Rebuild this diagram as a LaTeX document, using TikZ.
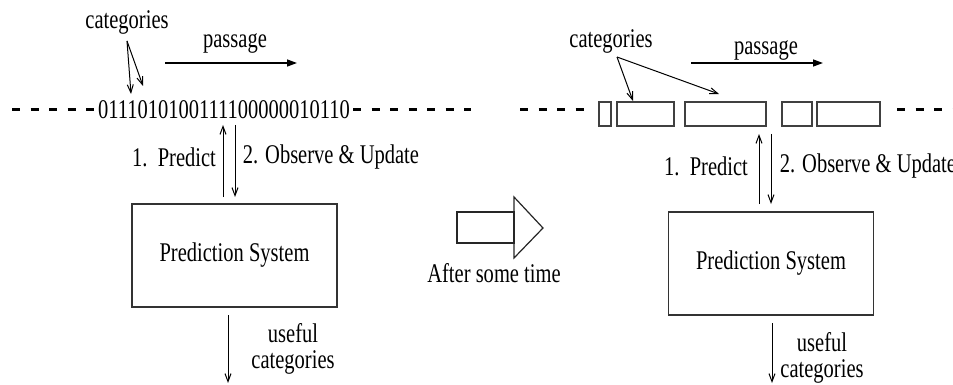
\documentclass[tikz,border=0pt]{standalone}
\usepackage{fontspec}
\setmainfont{Liberation Serif}[FakeStretch=0.76]
\usetikzlibrary{arrows.meta}
\begin{document}
\begin{tikzpicture}[x=0.5pt,y=-0.5pt,
  txt/.style={inner sep=0pt, font=\fontsize{13.5}{13}\selectfont, align=center},
  sysbox/.style={draw=black!80, line width=0.6pt, minimum width=102.5pt, minimum height=51.5pt, inner sep=0pt, font=\fontsize{13.5}{13}\selectfont},
  seg/.style={draw=black!75, line width=0.6pt, inner sep=0pt, minimum height=12pt},
  thinarrow/.style={line width=0.5pt, -{Straight Barb[length=4pt,width=3pt]}},
  passarrow/.style={line width=0.7pt, -{Triangle[length=5pt,width=3.5pt]}},
  dashline/.style={line width=1.5pt, dash pattern=on 4pt off 5.25pt},
  hollow/.style={draw=black!85, line width=0.6pt}]
\useasboundingbox (0,0) rectangle (953,385);

% ---------- left part ----------
\node[txt] (cat1) at (127,22) {categories};
\node[txt] (pas1) at (235,43) {passage};
\coordinate (pas1s) at (165,63);
\coordinate (pas1e) at (297,63);
\draw[passarrow] (pas1s) -- (pas1e);

\node[txt] (bits) at (224,110) {0111010100111100000010110};
\coordinate (cat1o) at (127,41);
\coordinate (c1a) at (131,94);
\coordinate (c1b) at (143,86);
\draw[thinarrow] (cat1o) -- (c1a);
\draw[thinarrow] (cat1o) -- (c1b);

\coordinate (dl1a) at (12,110);
\coordinate (dl1b) at (95,110);
\coordinate (dr1a) at (353,110);
\coordinate (dr1b) at (471,110);
\draw[dashline] (dl1a) -- (dl1b);
\draw[dashline] (dr1a) -- (dr1b);

\node[sysbox] (box1) at (234.5,255.5) {Prediction System};
\coordinate (up1b) at (223,197);
\coordinate (up1t) at (223,125);
\coordinate (dn1t) at (235,125);
\coordinate (dn1b) at (235,197);
\draw[thinarrow] (up1b) -- (up1t);
\draw[thinarrow] (dn1t) -- (dn1b);
\node[txt] (pred1) at (174,157) {1.~~Predict};
\node[txt] (obs1) at (331,157) {2. Observe \& Update};

\coordinate (out1t) at (228,315);
\coordinate (out1b) at (228,383);
\draw[thinarrow] (out1t) -- (out1b);
\node[txt] (use1) at (293,349) {useful\\categories};

% ---------- middle arrow ----------
\draw[hollow] (457,212) rectangle (514,243);
\draw[hollow] (514,197) -- (543,228) -- (514,258) -- cycle;
\node[txt] (after) at (494,273) {After some time};

% ---------- right part ----------
\node[txt] (cat2) at (611,41) {categories};
\node[txt] (pas2) at (766,50) {passage};
\coordinate (pas2s) at (691,63);
\coordinate (pas2e) at (823,63);
\draw[passarrow] (pas2s) -- (pas2e);

\node[seg, minimum width=6pt]    (s1) at (605,114) {};
\node[seg, minimum width=28.5pt] (s2) at (645.5,114) {};
\node[seg, minimum width=40.5pt] (s3) at (725.5,114) {};
\node[seg, minimum width=15pt]   (s4) at (797,114) {};
\node[seg, minimum width=31.5pt] (s5) at (848.5,114) {};

\coordinate (cat2o) at (617,57);
\coordinate (c2a) at (633,101);
\coordinate (c2b) at (719,94);
\draw[thinarrow] (cat2o) -- (c2a);
\draw[thinarrow] (cat2o) -- (c2b);

\coordinate (dl2a) at (520,110);
\coordinate (dl2b) at (585,110);
\coordinate (dr2a) at (897,110);
\coordinate (dr2b) at (953,110);
\draw[dashline] (dl2a) -- (dl2b);
\draw[dashline] (dr2a) -- (dr2b);

\node[sysbox] (box2) at (771,263.5) {Prediction System};
\coordinate (up2b) at (759,204);
\coordinate (up2t) at (759,134);
\coordinate (dn2t) at (771,134);
\coordinate (dn2b) at (771,204);
\draw[thinarrow] (up2b) -- (up2t);
\draw[thinarrow] (dn2t) -- (dn2b);
\node[txt] (pred2) at (706,166) {1.~~Predict};
\node[txt] (obs2) at (868,166) {2. Observe \& Update};

\coordinate (out2t) at (772,323);
\coordinate (out2b) at (772,383);
\draw[thinarrow] (out2t) -- (out2b);
\node[txt] (use2) at (822,358) {useful\\categories};
\end{tikzpicture}
\end{document}
